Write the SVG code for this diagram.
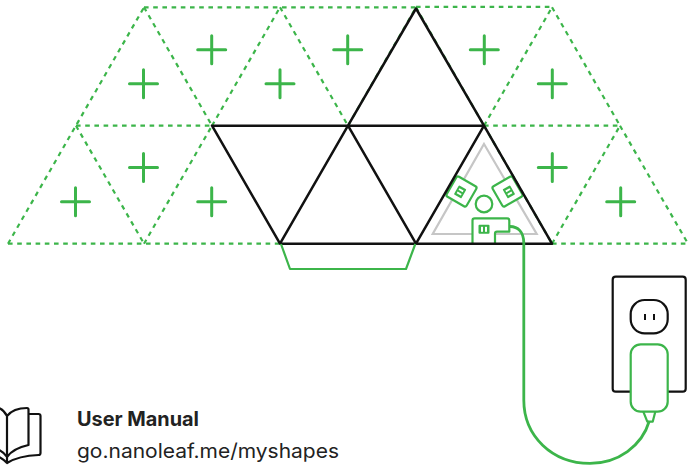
<svg xmlns="http://www.w3.org/2000/svg" width="689" height="466" viewBox="0 0 689 466">
<style>
.d{fill:none;stroke:#3cb54a;stroke-width:2.2;stroke-dasharray:4.6 4.6}
.k{fill:none;stroke:#111;stroke-width:2.5;stroke-linejoin:round;stroke-linecap:round}
.g{fill:none;stroke:#3cb54a;stroke-width:2.2;stroke-linejoin:round}
.w{fill:#fff;stroke:#3cb54a;stroke-width:2.2;stroke-linejoin:round}
.p{fill:none;stroke:#3cb54a;stroke-width:3;stroke-linecap:round}
.f{fill:#3cb54a}
.t{font-family:"Inter","Open Sans",sans-serif;font-size:20px;fill:#222}
</style>
<defs><path id="plus" class="p" d="M-14 0H14M0-14V14"/>
<g id="port"><rect x="-5.5" y="-4.5" width="11" height="9" rx="1" class="f"/><rect x="-3" y="-2.5" width="2" height="5" fill="#fff"/><rect x="1" y="-2.5" width="2" height="5" fill="#fff"/></g></defs>
<g id="connectors">
<path class="d" d="M144 7.3H416M416 6.8H552M76 125.7H212M484 125.7H620M8 243.7H280M552 243.7H688"/>
<path class="d" d="M8 243.7L144 7.3M76 125.7L144 243.7M144 243.7L212 125.7M144 7.3L212 125.7M212 125.7L280 7.3M280 7.3L348 125.7"/>
<path class="d" d="M348 125.7L416 7.3M416 7.3L484 125.7M484 125.7L552 7.3M552 7.3L620 125.7M620 125.7L688 243.7M484 125.7L552 243.7M552 243.7L620 125.7"/>
</g>
<g id="plus-marks">
<use href="#plus" x="143.5" y="83.7"/><use href="#plus" x="211.7" y="49.7"/><use href="#plus" x="280" y="83.7"/><use href="#plus" x="347.7" y="49.7"/><use href="#plus" x="484.3" y="49.7"/><use href="#plus" x="552.3" y="83.7"/><use href="#plus" x="552.3" y="167.5"/><use href="#plus" x="620.7" y="201.7"/><use href="#plus" x="143.5" y="167.5"/><use href="#plus" x="75.5" y="201.7"/><use href="#plus" x="211.7" y="201.7"/>
</g>
<g id="controller">
<path d="M484 144L536.7 234H432.7Z" fill="none" stroke="#c6c6c6" stroke-width="2.2"/>
<g transform="translate(461.5 191.5) rotate(30)"><rect x="-11.5" y="-11.5" width="23" height="23" rx="2" class="w"/><use href="#port" transform="translate(-1 1) rotate(-90) scale(.95)"/></g>
<g transform="translate(507.5 191.5) rotate(-30)"><rect x="-11.5" y="-11.5" width="23" height="23" rx="2" class="w"/><use href="#port" transform="translate(1 1) rotate(-90) scale(.95)"/></g>
<circle cx="484" cy="204" r="8.3" class="w"/>
<path class="w" d="M472.5 243.7V220.5Q472.5 218.3 474.7 218.3H507Q509.3 218.3 509.3 220.5V231.7H497Q495 231.7 495 233.7V243.7"/>
<use href="#port" x="484" y="229.3"/>
</g>
<g id="panels">
<path class="k" d="M212 125.7H484M212 125.7L280 243.7H416L484 125.7M280 243.7L348 125.7L416 243.7M348 125.7L416 8.5L484 125.7M416 243.7H552L484 125.7"/>
</g>
<g id="link"><path class="g" d="M281 244L290 269H406L415.3 244"/></g>
<g id="cable"><path fill="none" stroke="#3cb54a" stroke-width="2.8" d="M510 226.5C518 226.500 523.800 232 523.800 243V400C523.800 436 552 463.300 590 463.300C618 463.300 642 446 649.300 421"/></g>
<g id="outlet">
<rect x="612.7" y="276.7" width="73" height="115" rx="3" fill="#fff" stroke="#111" stroke-width="2.2"/>
<rect x="630.7" y="300" width="37" height="33.3" rx="14" fill="none" stroke="#111" stroke-width="2.2"/>
<path d="M645 314V320M654 314V320" stroke="#111" stroke-width="2"/>
</g>
<g id="plug">
<rect x="630.7" y="344.3" width="37" height="67.4" rx="10" class="w"/>
<path class="g" d="M643.3 411.7L647.3 421.7H652.7L655.3 411.7"/>
</g>
<g id="manual">
<g class="k" style="stroke-width:2.2"><path d="M0 408.500C3 410 5.500 413 7 416C11 411 19 408 27 408Q28.500 408 28.500 409.500V445C19 447 12 450 7 457C5 454 3 452 0 450.500M29 414H38.500Q40.500 414 40.500 416V453Q40.500 455 38.500 455C25 455.500 15 458 7 463C5 461 3 459 0 457.500M7 416V463"/></g>
<text x="77" y="425.7" class="t" style="font-weight:700" textLength="122" lengthAdjust="spacingAndGlyphs">User Manual</text>
<text x="77" y="458" class="t" textLength="262" lengthAdjust="spacingAndGlyphs">go.nanoleaf.me/myshapes</text>
</g>
</svg>
